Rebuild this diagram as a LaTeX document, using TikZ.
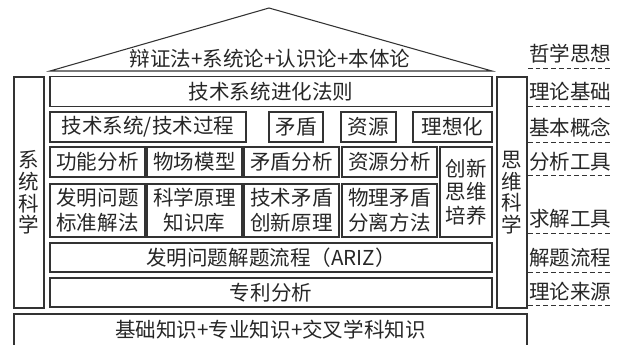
\documentclass[tikz,border=0pt]{standalone}
\usepackage{fontspec}
\setmainfont{Noto Sans CJK SC}
\usetikzlibrary{positioning}
\begin{document}
\begin{tikzpicture}[x=0.75pt,y=-0.75pt,
	Cell/.style 2 args={draw=black!80, line width=0.8pt, minimum width=#1*0.75pt, minimum height=#2*0.75pt, inner sep=0pt, align=center, text=black!85, font=\fontsize{15.4pt}{18.7pt}\selectfont},
	Tall/.style={font=\fontsize{15.4pt}{16.2pt}\selectfont},
	Tag/.style={anchor=south west, minimum width=63pt, inner xsep=0.75pt, inner ysep=4.6pt, text depth=0pt, align=left, text=black!85, font=\fontsize{15.4pt}{16pt}\selectfont},
	Under/.style={draw=black!80, line width=0.7pt, dash pattern=on 3.5pt off 2.3pt}]
	\clip (0,0) rectangle (624,344);
	% roof
	\coordinate (roofL) at (50,71);
	\coordinate (roofR) at (492,71);
	\coordinate (apex) at (269,8);
	\draw[draw=black!80, line width=0.8pt] (roofL) -- (apex) -- (roofR) -- cycle;
	\node[text=black!85, font=\fontsize{15.4pt}{16pt}\selectfont] (phil) at (270,58.5) {辩证法+系统论+认识论+本体论};
	% pillars
	\node[Cell={30}{231}, Tall] (sysL) at (29,192.5) {系\\统\\科\\学};
	\node[Cell={30}{231}, Tall] (sysR) at (512,192.5) {思\\维\\科\\学};
	% rows
	\node[Cell={442}{30}] (law) at (271,91.5) {技术系统进化法则};
	\node[Cell={196}{30}] (tsys) at (148,127) {技术系统/技术过程};
	\node[Cell={54}{30}] (mdun) at (296,127) {矛盾};
	\node[Cell={55}{30}] (ziyuan) at (368.5,127) {资源};
	\node[Cell={79}{30}] (ideal) at (452.5,127) {理想化};
	\node[Cell={95}{30}] (func) at (97.5,162) {功能分析};
	\node[Cell={95}{30}] (sfield) at (194.5,162) {物场模型};
	\node[Cell={95}{30}] (mdunA) at (291.5,162) {矛盾分析};
	\node[Cell={95}{30}] (ziyuanA) at (389.5,162) {资源分析};
	\node[Cell={52}{90}, font=\fontsize{15.4pt}{17.6pt}\selectfont] (think) at (466,192) {创新\\思维\\培养};
	\node[Cell={95}{53}] (std) at (97.5,210.5) {发明问题\\标准解法};
	\node[Cell={95}{53}] (know) at (194.5,210.5) {科学原理\\知识库};
	\node[Cell={95}{53}] (tech) at (291.5,210.5) {技术矛盾\\创新原理};
	\node[Cell={95}{53}] (phys) at (389.5,210.5) {物理矛盾\\分离方法};
	\node[Cell={442}{29}] (ariz) at (271,257.5) {发明问题解题流程（ARIZ）};
	\node[Cell={442}{29}] (patent) at (271,292.5) {专利分析};
	\node[Cell={513}{32}] (base) at (270.5,330) {基础知识+专业知识+交叉学科知识};
	% side tags
	\node[Tag] (t1) at (528,68) {哲学思想};
	\node[Tag] (t2) at (528,106) {理论基础};
	\node[Tag] (t3) at (528,142) {基本概念};
	\node[Tag] (t4) at (528,175.5) {分析工具};
	\node[Tag] (t5) at (528,233) {求解工具};
	\node[Tag] (t6) at (528,272) {解题流程};
	\node[Tag] (t7) at (528,305.5) {理论来源};
	\foreach \t in {t1,t2,t3,t4,t5,t6,t7}
		\draw[Under] (\t.south west) -- (\t.south east);
\end{tikzpicture}
\end{document}
